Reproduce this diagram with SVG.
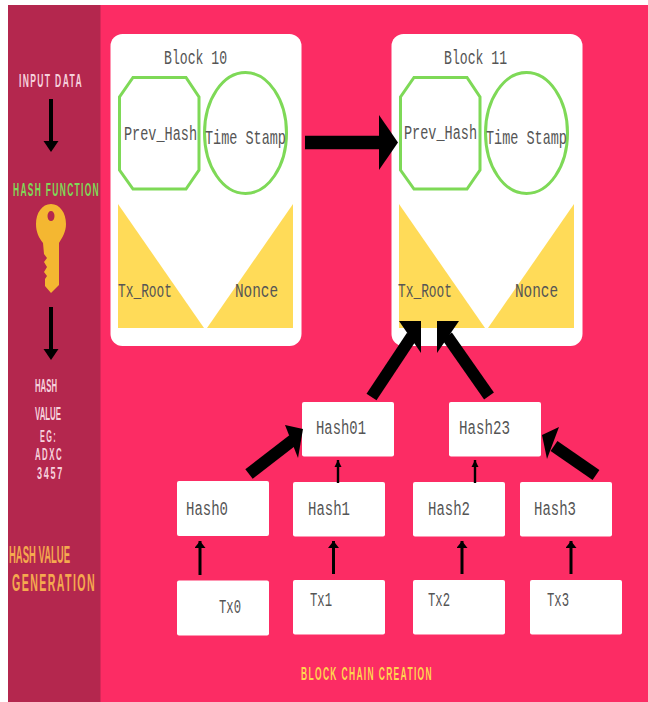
<svg xmlns="http://www.w3.org/2000/svg" width="648" height="702" viewBox="0 0 648 702">
<defs>
<style>
.card{fill:#fff}
.oct,.ell{fill:#fff;stroke:#7ed957;stroke-width:3}
.tri{fill:#ffdb58}
.s{font-family:"Liberation Mono","DejaVu Sans Mono",monospace;font-size:20px;fill:#555}
.d{font-family:"Liberation Sans",Arial,sans-serif;font-size:19px;font-weight:bold;letter-spacing:3px;fill:#f6d0dc}
.thin{stroke:#000;stroke-width:2.4;fill:none;marker-end:url(#h)}
.med{stroke:#000;stroke-width:3;fill:none;marker-end:url(#h2)}
.thick{stroke:#000;stroke-width:12;fill:none}
</style>
<marker id="h" markerUnits="userSpaceOnUse" markerWidth="10" markerHeight="8" refX="7" refY="4" orient="auto"><path d="M0 0.5L7 4L0 7.5Z" fill="#000"/></marker>
<marker id="h2" markerUnits="userSpaceOnUse" markerWidth="10" markerHeight="12" refX="7" refY="5.5" orient="auto"><path d="M0 0L7 5.500L0 11Z" fill="#000"/></marker>
</defs>
<rect width="648" height="702" fill="#fff"/>
<rect x="8" y="5" width="640" height="697" fill="#fc2c64"/>
<rect x="8" y="5" width="92.500" height="697" fill="#b4274e"/>

<g id="sidebar-labels">
<text class="d" x="19" y="87" textLength="64" lengthAdjust="spacingAndGlyphs">INPUT DATA</text>
<text class="d" x="13" y="196" textLength="87" lengthAdjust="spacingAndGlyphs" style="fill:#7ed957">HASH FUNCTION</text>
<text class="d" x="35" y="392" textLength="22" lengthAdjust="spacingAndGlyphs" style="letter-spacing:0">HASH</text>
<text class="d" x="35" y="420" textLength="26" lengthAdjust="spacingAndGlyphs" style="letter-spacing:0">VALUE</text>
<text class="d" x="40" y="442" textLength="17" lengthAdjust="spacingAndGlyphs" style="font-size:16px">EG:</text>
<text class="d" x="35" y="460" textLength="28" lengthAdjust="spacingAndGlyphs" style="font-size:16px">ADXC</text>
<text class="d" x="37" y="478.500" textLength="27" lengthAdjust="spacingAndGlyphs" style="font-size:16px">3457</text>
<text class="d" x="9" y="563" textLength="61" lengthAdjust="spacingAndGlyphs" style="fill:#f5a94f;font-size:23px;letter-spacing:0">HASH VALUE</text>
<text class="d" x="12" y="591" textLength="84" lengthAdjust="spacingAndGlyphs" style="fill:#f5a94f;font-size:23px">GENERATION</text>
<text class="d" x="301" y="680" textLength="132" lengthAdjust="spacingAndGlyphs" style="fill:#ffd54f">BLOCK CHAIN CREATION</text>
</g>

<g id="key">
<path fill-rule="evenodd" fill="#f4b731" d="M51 204C60 204 66 213 66 224C66 232 62 238 59 243V285L51 293L45 286V279L47 276L44 272L47 267L44 262L47 258L44 254L43 243C39 238 36 232 36 224C36 213 42 204 51 204ZM51 211C49 211 47.500 213 47.500 216C47.500 219 49 221 51 221C53 221 54.500 219 54.500 216C54.500 213 53 211 51 211Z"/>
</g>

<g id="block-10">
<rect class="card" x="110.500" y="34" width="191" height="312" rx="12"/>
<polygon class="oct" points="133,77.500 186,77.500 199,97 199,170 186,189 133,189 119.500,170 119.500,97"/>
<ellipse class="ell" cx="245.500" cy="133" rx="41" ry="60.500"/>
<polygon class="tri" points="118,204 118,328 204,328"/>
<polygon class="tri" points="293,204 293,328 207,328"/>
<text class="s" x="164" y="64" textLength="63" lengthAdjust="spacingAndGlyphs">Block 10</text>
<text class="s" transform="translate(124 140) scale(.676 1)">Prev_Hash</text>
<text class="s" transform="translate(205 144) scale(.675 1)">Time Stamp</text>
<text class="s" x="118" y="297" textLength="54" lengthAdjust="spacingAndGlyphs">Tx_Root</text>
<text class="s" x="235" y="297" textLength="43" lengthAdjust="spacingAndGlyphs">Nonce</text>
</g>

<g id="block-11">
<rect class="card" x="391.500" y="34" width="191" height="312" rx="12"/>
<polygon class="oct" points="414,77.500 467,77.500 480,97 480,170 467,189 414,189 400.500,170 400.500,97"/>
<ellipse class="ell" cx="526.500" cy="133" rx="41" ry="60.500"/>
<polygon class="tri" points="399,204 399,328 485,328"/>
<polygon class="tri" points="574,204 574,328 488,328"/>
<text class="s" x="444" y="64" textLength="63" lengthAdjust="spacingAndGlyphs">Block 11</text>
<text class="s" transform="translate(404 139) scale(.676 1)">Prev_Hash</text>
<text class="s" transform="translate(486 144) scale(.675 1)">Time Stamp</text>
<text class="s" x="398" y="297" textLength="54" lengthAdjust="spacingAndGlyphs">Tx_Root</text>
<text class="s" x="515" y="297" textLength="43" lengthAdjust="spacingAndGlyphs">Nonce</text>
</g>

<g id="hash01"><rect class="card" x="302" y="402" width="92" height="54.500" rx="2"/><text class="s" x="316" y="434" textLength="50" lengthAdjust="spacingAndGlyphs">Hash01</text></g>
<g id="hash23"><rect class="card" x="449" y="402" width="92" height="54.500" rx="2"/><text class="s" x="459" y="434" textLength="51" lengthAdjust="spacingAndGlyphs">Hash23</text></g>
<g id="hash0"><rect class="card" x="177" y="481" width="92" height="55" rx="2"/><text class="s" x="186" y="515" textLength="42" lengthAdjust="spacingAndGlyphs">Hash0</text></g>
<g id="hash1"><rect class="card" x="293" y="482" width="92" height="54.500" rx="2"/><text class="s" x="308" y="515" textLength="42" lengthAdjust="spacingAndGlyphs">Hash1</text></g>
<g id="hash2"><rect class="card" x="413" y="482" width="92" height="54.500" rx="2"/><text class="s" x="428" y="515" textLength="42" lengthAdjust="spacingAndGlyphs">Hash2</text></g>
<g id="hash3"><rect class="card" x="520" y="482" width="92" height="54.500" rx="2"/><text class="s" x="534" y="515" textLength="42" lengthAdjust="spacingAndGlyphs">Hash3</text></g>
<g id="tx0"><rect class="card" x="177" y="580.500" width="92" height="55" rx="2"/><text class="s" x="219" y="613" textLength="22" lengthAdjust="spacingAndGlyphs">Tx0</text></g>
<g id="tx1"><rect class="card" x="293" y="580" width="92" height="54.500" rx="2"/><text class="s" x="310" y="606" textLength="22" lengthAdjust="spacingAndGlyphs">Tx1</text></g>
<g id="tx2"><rect class="card" x="413" y="580" width="92" height="54.500" rx="2"/><text class="s" x="428" y="606" textLength="22" lengthAdjust="spacingAndGlyphs">Tx2</text></g>
<g id="tx3"><rect class="card" x="530" y="580" width="92" height="54.500" rx="2"/><text class="s" x="547" y="606" textLength="22" lengthAdjust="spacingAndGlyphs">Tx3</text></g>

<g id="connectors">
<line x1="51" y1="99" x2="51" y2="142" stroke="#000" stroke-width="4"/><polygon points="43.500,141 58.500,141 51,152"/>
<line x1="51" y1="307" x2="51" y2="350" stroke="#000" stroke-width="4"/><polygon points="43.500,349 58.500,349 51,360"/>
<line x1="305" y1="142.500" x2="381" y2="142.500" stroke="#000" stroke-width="13.500"/><polygon points="379,115 398,142.500 379,170"/>
<line class="thick" x1="371.500" y1="397" x2="412" y2="336"/><polygon points="399,321 421,321 421,353"/>
<line class="thick" x1="489" y1="396" x2="447" y2="336"/><polygon points="437,321 459,321 437,353"/>
<line class="thick" x1="249" y1="474" x2="293" y2="440"/><polygon points="285,425 303,429 298,458"/>
<line class="thick" x1="596" y1="475" x2="554" y2="446"/><polygon points="542,435 559,427 547,459"/>
<line class="thin" x1="338" y1="483" x2="338" y2="460"/>
<line class="thin" x1="475" y1="483" x2="475" y2="460"/>
<line class="med" x1="200" y1="575" x2="200" y2="541"/>
<line class="med" x1="333.500" y1="574" x2="333.500" y2="541"/>
<line class="med" x1="462" y1="574" x2="462" y2="541"/>
<line class="med" x1="571" y1="574" x2="571" y2="541"/>
</g>
</svg>
